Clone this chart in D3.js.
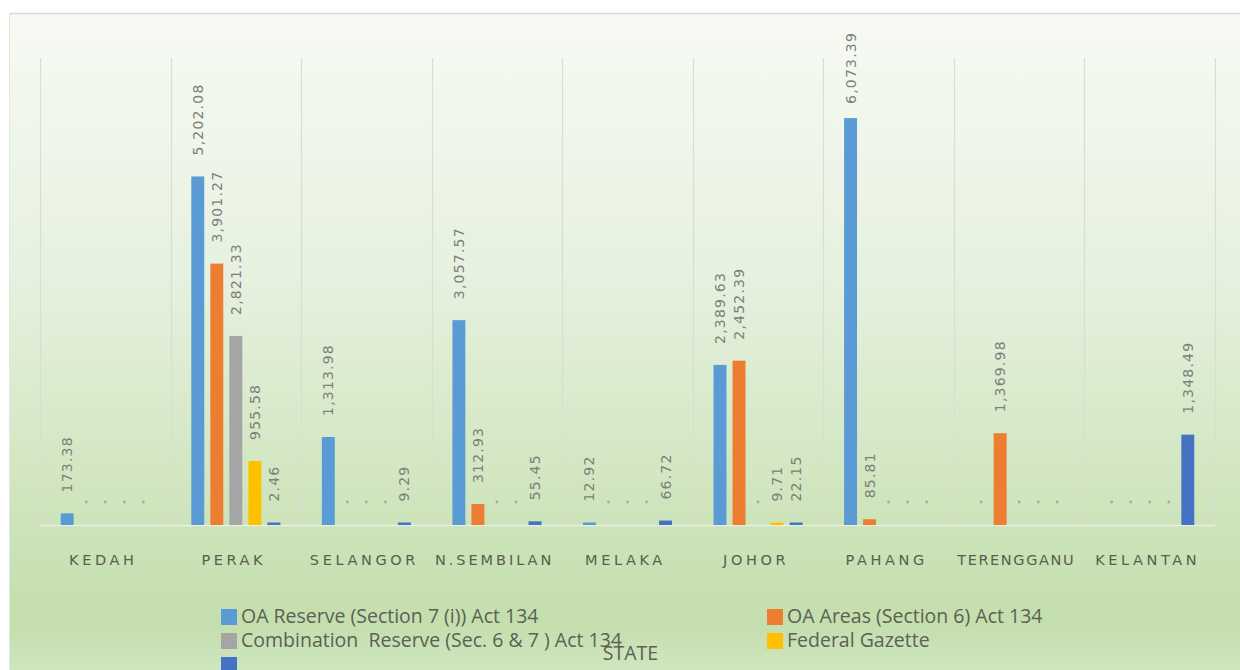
<!DOCTYPE html>
<html>
<head>
<meta charset="utf-8">
<script src="https://cdn.jsdelivr.net/npm/d3@7"></script>
<style>
  html, body { margin: 0; padding: 0; background: #ffffff; }
  svg { display: block; }
</style>
</head>
<body>
<svg id="chart" width="1240" height="670"></svg>
<script>
// ---- data ----
const categories = ["KEDAH", "PERAK", "SELANGOR", "N.SEMBILAN", "MELAKA", "JOHOR", "PAHANG", "TERENGGANU", "KELANTAN"];
const seriesNames = [
  "OA Reserve (Section 7 (i)) Act 134",
  "OA Areas (Section 6) Act 134",
  "Combination  Reserve (Sec. 6 & 7 ) Act 134",
  "Federal Gazette",
  "Forest Reserve"
];
const seriesColors = ["#5B9BD5", "#ED7D31", "#A5A5A5", "#FFC000", "#4472C4"];
const oaReserve     = [173.38, 5202.08, 1313.98, 3057.57, 12.92, 2389.63, 6073.39, 0, 0];
const oaAreas       = [0, 3901.27, 0, 312.93, 0, 2452.39, 85.81, 1369.98, 0];
const combination   = [0, 2821.33, 0, 0, 0, 0, 0, 0, 0];
const federal       = [0, 955.58, 0, 0, 0, 9.71, 0, 0, 0];
const fifthSeries   = [0, 2.46, 9.29, 55.45, 66.72, 22.15, 0, 0, 1348.49];
const seriesValues = [oaReserve, oaAreas, combination, federal, fifthSeries];
const yMax = 7000;
const axisTitle = "STATE";

// ---- layout ----
const svg = d3.select("#chart");
const W = 1240, H = 670;
const plot = { left: 40, right: 1215, top: 56, bottom: 525 };

const defs = svg.append("defs");
const grad = defs.append("linearGradient").attr("id", "bg").attr("x1", 0).attr("y1", 0).attr("x2", 0).attr("y2", 1);
[["0%", "#f7faf4"], ["40%", "#e6f1df"], ["80%", "#cbe3b8"], ["93%", "#c4dead"], ["100%", "#cfe6bf"]]
  .forEach(([o, c]) => grad.append("stop").attr("offset", o).attr("stop-color", c));

// chart area
svg.append("rect").attr("x", 9).attr("y", 13).attr("width", W - 9).attr("height", H - 13)
  .attr("fill", "url(#bg)");
svg.append("line").attr("x1", 9).attr("x2", W).attr("y1", 13.5).attr("y2", 13.5)
  .attr("stroke", "#d9d9d9").attr("stroke-width", 1.5);
svg.append("line").attr("x1", 9.5).attr("x2", 9.5).attr("y1", 13).attr("y2", H)
  .attr("stroke", "#e3e8df").attr("stroke-width", 1);

// scales
const x0 = d3.scaleBand().domain(categories).range([plot.left, plot.right]).padding(0);
const x1 = d3.scaleBand().domain(d3.range(seriesNames.length)).range([0, x0.bandwidth()])
  .paddingInner(0.32).paddingOuter(1.09);
const y = d3.scaleLinear().domain([0, yMax]).range([plot.bottom, plot.top]);

// vertical category gridlines
const gridX = categories.map(c => x0(c)).concat([plot.right]);
svg.append("g").selectAll("line").data(gridX).join("line")
  .attr("x1", d => Math.round(d) + 0.5).attr("x2", d => Math.round(d) + 0.5)
  .attr("y1", 58).attr("y2", plot.bottom)
  .attr("stroke", "#d9ddd4").attr("stroke-width", 1.2);

// baseline
svg.append("line").attr("x1", plot.left).attr("x2", plot.right)
  .attr("y1", plot.bottom + 0.5).attr("y2", plot.bottom + 0.5)
  .attr("stroke", "#e9efe4").attr("stroke-width", 1.5);

// flatten data
const cells = [];
categories.forEach((c, ci) => {
  seriesValues.forEach((vals, si) => {
    cells.push({ cat: c, si, v: vals[ci] });
  });
});

// bars
svg.append("g").selectAll("rect").data(cells.filter(d => d.v > 0)).join("rect")
  .attr("x", d => x0(d.cat) + x1(d.si))
  .attr("width", x1.bandwidth())
  .attr("y", d => Math.min(y(d.v), plot.bottom - 2.5))
  .attr("height", d => plot.bottom - Math.min(y(d.v), plot.bottom - 2.5))
  .attr("fill", d => seriesColors[d.si]);

// value labels (rotated)
const fmt = d3.format(",.2f");
const labelG = svg.append("g");
cells.filter(d => d.v > 0).forEach(d => {
  const cx = x0(d.cat) + x1(d.si) + x1.bandwidth() / 2;
  const t = labelG.append("text")
    .attr("font-family", "DejaVu Sans, sans-serif")
    .attr("font-size", 14)
    .attr("letter-spacing", 1.2)
    .attr("fill", "#7d7f7b")
    .attr("dominant-baseline", "central")
    .text(fmt(d.v));
  const len = t.node().getComputedTextLength();
  let start = Math.min(y(d.v), plot.bottom - 2.5) - 21;
  start = Math.max(start, 32 + len);
  t.attr("transform", `translate(${cx},${start}) rotate(-90)`);
});

// zero-value markers
svg.append("g").selectAll("circle").data(cells.filter(d => d.v === 0)).join("circle")
  .attr("cx", d => x0(d.cat) + x1(d.si) + x1.bandwidth() / 2)
  .attr("cy", plot.bottom - 23)
  .attr("r", 1.4)
  .attr("fill", "#a3ad9c");

// category labels
svg.append("g").selectAll("text").data(categories).join("text")
  .attr("x", d => x0(d) + x0.bandwidth() / 2 - 2)
  .attr("y", 565)
  .attr("text-anchor", "middle")
  .attr("font-family", "DejaVu Sans, sans-serif")
  .attr("font-size", 14.5)
  .attr("letter-spacing", 3.6)
  .attr("fill", "#56604f")
  .text(d => d)
  .each(function () {
    const len = this.getComputedTextLength();
    if (len > 122) d3.select(this).attr("textLength", 120).attr("lengthAdjust", "spacing");
  });

// legend
const legendPos = [
  { x: 221, y: 609 }, { x: 767, y: 609 },
  { x: 221, y: 633 }, { x: 767, y: 633 },
  { x: 221, y: 657 }
];
defs.append("clipPath").attr("id", "legclip").append("rect")
  .attr("x", 0).attr("y", 0).attr("width", W).attr("height", 655);
const leg = svg.append("g");
seriesNames.forEach((name, i) => {
  const p = legendPos[i];
  leg.append("rect").attr("x", p.x).attr("y", p.y).attr("width", 16).attr("height", 16)
    .attr("fill", seriesColors[i]);
  leg.append("text")
    .attr("x", p.x + 20).attr("y", p.y + 14)
    .attr("font-family", "Open Sans, sans-serif")
    .attr("font-size", 19.5)
    .attr("fill", "#5a6155")
    .style("white-space", "pre")
    .attr("clip-path", i === 4 ? "url(#legclip)" : null)
    .text(name);
});

// axis title
svg.append("text")
  .attr("x", (plot.left + plot.right) / 2 + 3)
  .attr("y", 660)
  .attr("text-anchor", "middle")
  .attr("font-family", "Open Sans, sans-serif")
  .attr("font-size", 19.5)
  .attr("fill", "#5a6155")
  .text(axisTitle);
</script>
</body>
</html>
